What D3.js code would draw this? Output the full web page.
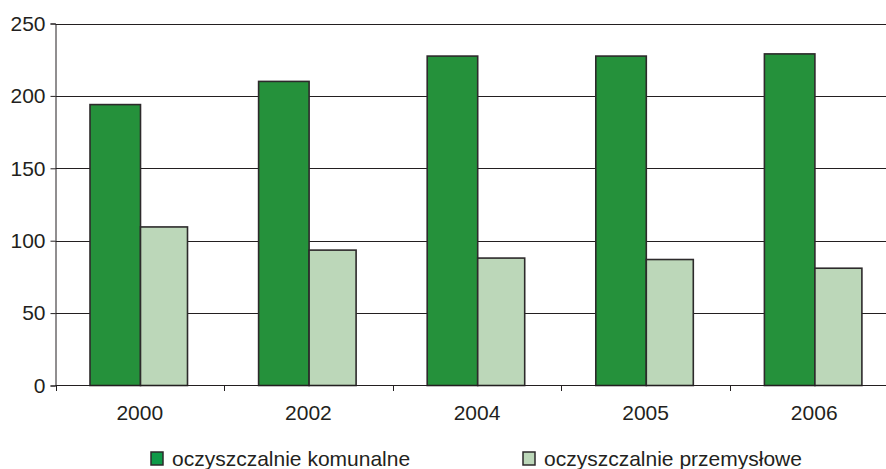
<!DOCTYPE html>
<html>
<head>
<meta charset="utf-8">
<script src="https://cdn.jsdelivr.net/npm/d3@7"></script>
<style>
  body { margin: 0; background: #fff; }
  svg text { font-family: "Liberation Sans", Arial, sans-serif; fill: #231f20; }
</style>
</head>
<body>
<div id="chart"></div>
<script>
const years = ["2000", "2002", "2004", "2005", "2006"];
const komunalne = [194, 210, 227.5, 227.5, 229];
const przemyslowe = [109.5, 93.5, 88, 87, 81];
const yTicks = [0, 50, 100, 150, 200, 250];
const seriesNames = ["oczyszczalnie komunalne", "oczyszczalnie przemysłowe"];
const colors = ["#25913b", "#bcd7b9"];

const W = 886, H = 469;
const svg = d3.select("#chart").append("svg")
    .attr("width", W).attr("height", H);

// band of ~168.6px per year, last one runs off the right edge
const x = d3.scaleBand().domain(years).range([55.5, 898.5]);
const y = d3.scaleLinear().domain([0, 250]).range([385.5, 23.5]);
const barOffset = [34.5, 85];  // start of each series bar inside its band
const barW = [50.5, 47];

// gridlines
svg.append("g").selectAll("line")
    .data(yTicks.filter(d => d > 0))
    .join("line")
    .attr("x1", 55.5).attr("x2", W)
    .attr("y1", d => Math.round(y(d)) + 0.5).attr("y2", d => Math.round(y(d)) + 0.5)
    .attr("stroke", "#231f20").attr("stroke-width", 1);

// y axis
const yAxis = svg.append("g")
    .attr("transform", "translate(55.5,0)")
    .call(d3.axisLeft(y).tickValues(yTicks).tickSize(5).tickPadding(5));
yAxis.select(".domain").attr("stroke", "#231f20");
yAxis.selectAll(".tick line").attr("stroke", "#231f20");
yAxis.selectAll("text").style("font-size", "21px").attr("fill", "#231f20");

// bars
const data = years.map((yr, i) => ({ yr, vals: [komunalne[i], przemyslowe[i]] }));
const groups = svg.append("g").selectAll("g")
    .data(data).join("g");
groups.selectAll("rect")
    .data(d => d.vals.map((v, k) => ({ yr: d.yr, v, k })))
    .join("rect")
    .attr("x", d => x(d.yr) + barOffset[d.k])
    .attr("y", d => y(d.v))
    .attr("width", d => barW[d.k])
    .attr("height", d => y(0) - y(d.v))
    .attr("fill", d => colors[d.k])
    .attr("stroke", "#2d2a2b")
    .attr("stroke-width", 1.6);

// x axis
const xAxis = svg.append("g")
    .attr("transform", "translate(0,385.5)")
    .call(d3.axisBottom(x).tickSize(0).tickPadding(20));
xAxis.select(".domain").remove();
xAxis.selectAll("text").style("font-size", "21px").attr("fill", "#231f20");
svg.append("line")
    .attr("x1", 55.5).attr("x2", W).attr("y1", 385.5).attr("y2", 385.5)
    .attr("stroke", "#231f20");
svg.append("g").selectAll("line")
    .data(years)
    .join("line")
    .attr("x1", d => Math.round(x(d)) + 0.5).attr("x2", d => Math.round(x(d)) + 0.5)
    .attr("y1", 385.5).attr("y2", 391)
    .attr("stroke", "#231f20");

// legend
const legendX = [151, 523];
const leg = svg.append("g").selectAll("g")
    .data(seriesNames).join("g")
    .attr("transform", (d, i) => `translate(${legendX[i]},452)`);
leg.append("rect")
    .attr("width", 12).attr("height", 13)
    .attr("fill", (d, i) => i === 0 ? "#0f9a48" : colors[1])
    .attr("stroke", "#2d2a2b").attr("stroke-width", 1.5);
leg.append("text")
    .attr("x", 21).attr("y", 14)
    .style("font-size", "21px")
    .text(d => d);
</script>
</body>
</html>
